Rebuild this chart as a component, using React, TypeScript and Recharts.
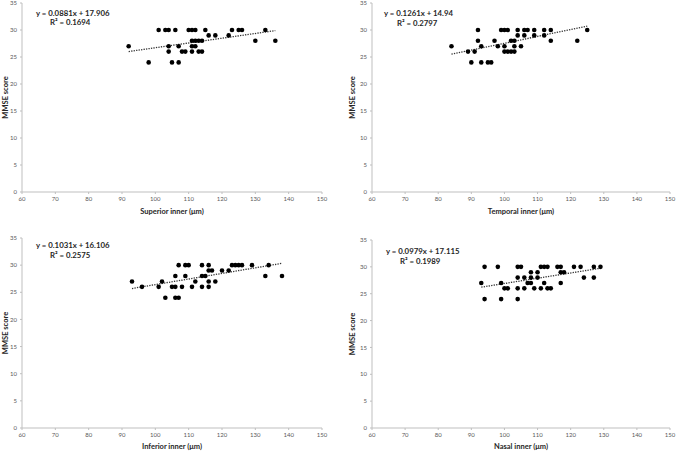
import React from 'react';
import { ScatterChart, Scatter, XAxis, YAxis, ReferenceLine } from 'recharts';

const xTicks = [60, 70, 80, 90, 100, 110, 120, 130, 140, 150];
const yTicks = [0, 5, 10, 15, 20, 25, 30, 35];

const superiorInner = [101, 103, 104, 106, 110, 111, 112, 115, 123, 125, 126, 133, 116, 118, 122, 111, 112, 113, 114, 130, 136, 92, 104, 107, 111, 112, 104, 108, 109, 111, 113, 114, 98, 105, 107];
const superiorMmse = [30, 30, 30, 30, 30, 30, 30, 30, 30, 30, 30, 30, 29, 29, 29, 28, 28, 28, 28, 28, 28, 27, 27, 27, 27, 27, 26, 26, 26, 26, 26, 26, 24, 24, 24];

const temporalInner = [92, 99, 100, 101, 104, 106, 107, 109, 112, 114, 125, 104, 106, 109, 112, 92, 97, 102, 103, 114, 122, 84, 93, 98, 100, 103, 105, 89, 91, 100, 101, 102, 103, 90, 93, 95, 96];
const temporalMmse = [30, 30, 30, 30, 30, 30, 30, 30, 30, 30, 30, 29, 29, 29, 29, 28, 28, 28, 28, 28, 28, 27, 27, 27, 27, 27, 27, 26, 26, 26, 26, 26, 26, 24, 24, 24, 24];

const inferiorInner = [107, 109, 110, 114, 116, 123, 124, 125, 126, 129, 134, 116, 117, 120, 122, 106, 109, 114, 115, 133, 138, 93, 102, 112, 116, 118, 96, 101, 105, 106, 108, 111, 114, 116, 103, 106, 107];
const inferiorMmse = [30, 30, 30, 30, 30, 30, 30, 30, 30, 30, 30, 29, 29, 29, 29, 28, 28, 28, 28, 28, 28, 27, 27, 27, 27, 27, 26, 26, 26, 26, 26, 26, 26, 26, 24, 24, 24];

const nasalInner = [94, 98, 104, 105, 111, 112, 113, 116, 117, 121, 123, 127, 129, 108, 110, 117, 118, 104, 106, 108, 110, 124, 127, 93, 99, 107, 108, 112, 117, 100, 101, 104, 106, 109, 111, 113, 114, 94, 99, 104];
const nasalMmse = [30, 30, 30, 30, 30, 30, 30, 30, 30, 30, 30, 30, 30, 29, 29, 29, 29, 28, 28, 28, 28, 28, 28, 27, 27, 27, 27, 27, 27, 26, 26, 26, 26, 26, 26, 26, 26, 24, 24, 24];

const xTitles = ['Superior inner (μm)', 'Temporal inner (μm)', 'Inferior inner (μm)', 'Nasal inner (μm)'];
const slopes = [0.0881, 0.1261, 0.1031, 0.0979];
const intercepts = [17.906, 14.94, 16.106, 17.115];
const slopeLabels = ['0.0881', '0.1261', '0.1031', '0.0979'];
const interceptLabels = ['17.906', '14.94', '16.106', '17.115'];
const r2Labels = ['0.1694', '0.2797', '0.2575', '0.1989'];

const xs = [superiorInner, temporalInner, inferiorInner, nasalInner];
const ys = [superiorMmse, temporalMmse, inferiorMmse, nasalMmse];

const layouts = [
  { left: 0, top: 0, margin: { top: 3, right: 18, left: 0, bottom: 0 }, yW: 22, xH: 34, xOff: 12, yOff: 5, eq: [36, 8.5, 50, 18] },
  { left: 337, top: 0, margin: { top: 3, right: 7, left: 0, bottom: 0 }, yW: 35, xH: 34, xOff: 12, yOff: 15, eq: [47, 9, 60, 19] },
  { left: 0, top: 226, margin: { top: 12, right: 18, left: 0, bottom: 0 }, yW: 22, xH: 24, xOff: 3, yOff: 5, eq: [36, 15.3, 50, 24.7] },
  { left: 337, top: 226, margin: { top: 14, right: 7, left: 0, bottom: 0 }, yW: 35, xH: 24, xOff: 3, yOff: 15, eq: [49, 20.7, 63, 30.7] },
];

const FONT = 'Lato, "Open Sans", sans-serif';
const AXIS = '#bfbfbf';

const Dot = (props: any) => <circle cx={props.cx} cy={props.cy} r={2.3} fill="#000" />;

const eqStyle: React.CSSProperties = {
  position: 'absolute',
  fontSize: 7.8,
  fontWeight: 700,
  fontFamily: FONT,
  color: '#262626',
  whiteSpace: 'nowrap',
  lineHeight: '8px',
  height: 8,
};

function Panel({ i }: { i: number }) {
  const L = layouts[i];
  const data = xs[i].map((x, k) => ({ x, y: ys[i][k] }));
  const minX = Math.min(...xs[i]);
  const maxX = Math.max(...xs[i]);
  const f = (x: number) => slopes[i] * x + intercepts[i];
  return (
    <div style={{ position: 'absolute', left: L.left, top: L.top, width: 340, height: 226 }}>
      <ScatterChart width={340} height={226} margin={L.margin}>
        <XAxis
          type="number"
          dataKey="x"
          domain={[60, 150]}
          ticks={xTicks}
          interval={0}
          height={L.xH}
          tickSize={2}
          tickMargin={3}
          axisLine={{ stroke: AXIS }}
          tickLine={{ stroke: AXIS }}
          tick={{ fontSize: 6, fill: '#595959', fontFamily: FONT }}
          label={{ value: xTitles[i], position: 'insideBottom', offset: L.xOff, style: { fontSize: 7.5, fontWeight: 700, fill: '#262626', fontFamily: FONT } }}
        />
        <YAxis
          type="number"
          dataKey="y"
          domain={[0, 35]}
          ticks={yTicks}
          interval={0}
          width={L.yW}
          tickSize={2}
          tickMargin={3}
          axisLine={{ stroke: AXIS }}
          tickLine={{ stroke: AXIS }}
          tick={{ fontSize: 6, fill: '#595959', fontFamily: FONT }}
          label={{ value: 'MMSE score', angle: -90, position: 'insideLeft', offset: L.yOff, style: { textAnchor: 'middle', fontSize: 7.5, fontWeight: 700, fill: '#262626', fontFamily: FONT } }}
        />
        <ReferenceLine
          segment={[{ x: minX, y: f(minX) }, { x: maxX, y: f(maxX) }]}
          stroke="#333"
          strokeWidth={1.3}
          strokeDasharray="1.3 1.2"
          ifOverflow="visible"
        />
        <Scatter data={data} shape={Dot} isAnimationActive={false} />
      </ScatterChart>
      <div style={{ ...eqStyle, left: L.eq[0], top: L.eq[1] }}>
        {`y = ${slopeLabels[i]}x + ${interceptLabels[i]}`}
      </div>
      <div style={{ ...eqStyle, left: L.eq[2], top: L.eq[3] }}>
        {`R² = ${r2Labels[i]}`}
      </div>
    </div>
  );
}

export default function App() {
  return (
    <div style={{ position: 'absolute', left: 0, top: 0, width: 677, height: 452, background: '#fff', overflow: 'hidden' }}>
      {[0, 1, 2, 3].map((i) => (
        <Panel key={i} i={i} />
      ))}
    </div>
  );
}
